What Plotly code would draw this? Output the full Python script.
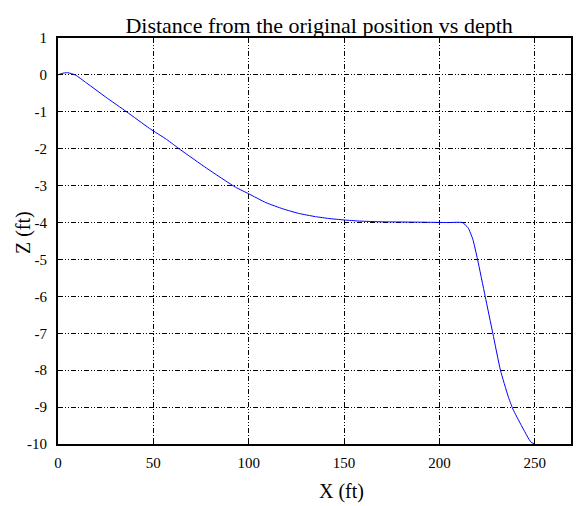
import plotly.graph_objects as go

x_ft = [0, 2, 5, 9, 15, 25, 36, 48, 57, 64, 78, 93, 100, 109, 118, 126, 135, 142,
        150, 158, 170, 190, 205, 212, 215, 217.5, 220, 224, 228, 232, 236, 238.5,
        243, 248, 250]
z_ft = [0, 0.04, 0.06, 0, -0.22, -0.6, -1.0, -1.45, -1.75, -2.02, -2.53, -3.04,
        -3.22, -3.46, -3.63, -3.75, -3.84, -3.89, -3.93, -3.96, -3.98, -3.99, -4.0,
        -4.0, -4.14, -4.45, -5.0, -6.0, -7.0, -8.0, -8.7, -9.05, -9.5, -9.95, -10.0]

x_ticks = [0, 50, 100, 150, 200, 250]
x_labels = ["0", "50", "100", "150", "200", "250"]
y_ticks = [1, 0, -1, -2, -3, -4, -5, -6, -7, -8, -9, -10]
y_labels = ["1", "0", "-1", "-2", "-3", "-4", "-5", "-6", "-7", "-8", "-9", "-10"]

FONT = "Liberation Serif, Times New Roman, serif"
GRID_DASH = "5px,2px,1px,2px,1px,2px"

fig = go.Figure()
fig.add_trace(go.Scatter(x=x_ft, y=z_ft, mode="lines", line_shape="spline",
                         line=dict(color="#0000ff", width=1, smoothing=0.5),
                         showlegend=False))

axis_common = dict(
    showline=True, linecolor="black", linewidth=2, mirror="ticks",
    ticks="inside", ticklen=5, tickcolor="black", tickwidth=1,
    showgrid=True, gridcolor="black", gridwidth=1, griddash=GRID_DASH,
    zeroline=False, tickfont=dict(family=FONT, size=15, color="black"),
)

fig.update_layout(
    width=576, height=506,
    margin=dict(l=58, r=3, t=38, b=62),
    paper_bgcolor="white", plot_bgcolor="white",
    font=dict(family=FONT, color="black"),
    title=dict(text="Distance from the original position vs depth",
               font=dict(family=FONT, size=22, color="black"),
               x=0.509, xref="paper", xanchor="center",
               y=1, yref="paper", yanchor="bottom", pad=dict(b=5)),
    xaxis=dict(range=[0, 269], tickvals=x_ticks, ticktext=x_labels,
               ticklabelstandoff=4, **axis_common),
    yaxis=dict(range=[-10, 1], tickvals=y_ticks, ticktext=y_labels,
               ticklabelstandoff=6, **axis_common),
    annotations=[
        dict(text="X (ft)", xref="paper", yref="paper", x=0.553, y=-0.118,
             xanchor="center", yanchor="middle", showarrow=False,
             font=dict(family=FONT, size=20, color="black")),
        dict(text="Z (ft)", xref="paper", yref="paper", x=-0.066, y=0.52,
             xanchor="center", yanchor="middle", showarrow=False, textangle=-90,
             font=dict(family=FONT, size=20, color="black")),
    ],
)

fig.write_html("out.html")
